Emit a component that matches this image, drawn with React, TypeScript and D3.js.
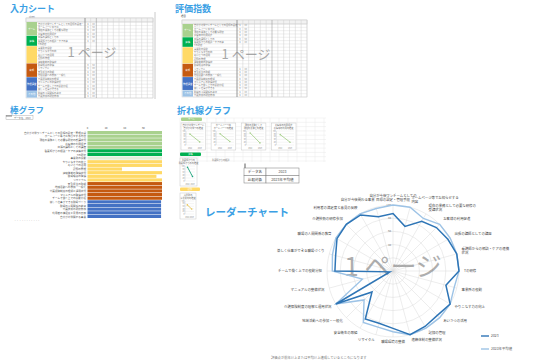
import React from "react";
import * as d3 from "d3";

const FONT = "'Noto Sans CJK JP', 'Noto Sans', sans-serif";
const TITLE_BLUE = "#3aa0e4";

// 評価項目（棒グラフ・レーダーチャート共通）
const items = [
  "自分が今後ワンチームとしての目標の設定・管理手段",
  "ホームページ等でお知らせする内容",
  "現在の業務として必要な研修の受講状況",
  "お客様の利用促進",
  "出張の講師としての講座",
  "看護師からの相談・ケアの連携状況",
  "Tの研修",
  "事業所の役割",
  "やりこなす力の向上",
  "あいさつの活用",
  "記録の管理",
  "連絡体制の整備状況",
  "職場環境の整備",
  "リサイクル",
  "安全衛生の取組",
  "地域活動への参加・一般化",
  "介護保険制度の理解と運用状況",
  "マニュアルの整備状況",
  "チームで働く上での役割分担",
  "楽しく仕事ができる職場づくり",
  "職場の人間関係の教育",
  "介護技術の研修参加",
  "利用者の満足度と意見の反映",
  "自分が今後関わる事業",
];

// 棒グラフ
const barGroup = [0, 0, 0, 0, 0, 1, 1, 6, 2, 2, 2, 2, 2, 2, 3, 3, 3, 3, 3, 4, 4, 4, 4, 4];
const barValues = [80, 80, 80, 80, 80, 80, 80, 80, 80, 80, 37, 80, 74, 80, 80, 80, 80, 80, 80, 79, 79, 79, 79, 79];
const barTicks = [0, 20, 40, 60];
const groupColors = ["#a9d18e", "#00b050", "#ffd966", "#c55a11", "#4472c4", "#9dc3e6", "#e2efda"];

// レーダーチャート
const radar2023 = [87, 70, 87, 93, 96, 100, 100, 83, 100, 95, 97, 100, 87, 82, 84, 45, 100, 5, 88, 90, 98, 100, 98, 85];
const radarAvg = [100, 100, 92, 100, 100, 100, 100, 96, 100, 100, 100, 100, 92, 88, 90, 62, 100, 48, 92, 95, 100, 100, 100, 98];
const radarTicks = [20, 40, 60, 80, 100];
const radarTickLabels = [40, 60, 80, 100]; // 20 is hidden behind the page watermark
const seriesNames = ["2023", "2023年平均値"];

// シート
const sheetGroupRows = [4, 3, 5, 4, 4, 2];
const sheetGroupNames = ["チーム", "連携", "", "育成", "管理運営", "その他"];
const sheetScores = [4, 3, 4, 4, 3, 4, 4, 2, 4, 3, 4, 4, 3, 4, 4, 4, 3, 4, 4, 3, 4, 4];

// 折れ線グラフ
const years = ["2022", "2023"];
const miniTitles = ["自分が今後ワンチーム", "ホームページ等", "現在の業務として", "お客様の利用促進"];
const miniSeries = [
  [78, 22],
  [80, 25],
  [86, 15],
  [74, 20],
];
const greenSeries = [92, 30];
const yellowSeries = [70, 38];
const tableRows = [
  ["データ名", "2023"],
  ["比較対象", "2023年平均値"],
];

const Sheet = ({ x, y, w, h, labelW, nCols, mark, wmX }: any) => {
  const total = d3.sum(sheetGroupRows);
  const rowY = d3.scaleBand<number>().domain(d3.range(total)).range([y + 4, y + h]);
  const colX = d3.scaleLinear().domain([0, nCols]).range([x + 11 + labelW, x + w]);
  let start = 0;
  const blocks = sheetGroupRows.map((n, i) => {
    const b = { i, y0: rowY(start)!, y1: rowY(start + n - 1)! + rowY.bandwidth() };
    start += n;
    return b;
  });
  // rows behind the page watermark keep shorter text
  const underMark = (r: number) => rowY(r)! > y + 22 && rowY(r)! < y + 45;
  return (
    <g fontFamily={FONT}>
      <rect x={x} y={y} width={w} height={h} fill="#fff" stroke="#cfcfcf" strokeWidth={0.5} />
      <rect x={x} y={y} width={w} height={4} fill="#f2f2f2" stroke="#bbb" strokeWidth={0.4} />
      {d3.range(total + 1).map((r) => (
        <line key={r} x1={x + 11} x2={x + w} y1={y + 4 + r * rowY.step()} y2={y + 4 + r * rowY.step()} stroke="#d6d6d6" strokeWidth={0.4} />
      ))}
      {d3.range(nCols + 1).map((c) => (
        <line key={c} x1={colX(c)} x2={colX(c)} y1={y} y2={y + h} stroke={c === mark[0] || c === mark[1] ? "#8a8a8a" : "#d0d0d0"} strokeWidth={c === mark[0] ? 0.9 : 0.5} />
      ))}
      {blocks.map((b) => (
        <g key={b.i}>
          <rect x={x + 0.5} y={b.y0} width={10.5} height={b.y1 - b.y0 - 0.4} fill={groupColors[b.i]} />
          <text x={x + 5.7} y={(b.y0 + b.y1) / 2 + 0.8} fontSize={2.4} fill="#fff" textAnchor="middle">{sheetGroupNames[b.i]}</text>
        </g>
      ))}
      {d3.range(total).map((r) => (
        <g key={r}>
          <text x={x + 12} y={rowY(r)! + rowY.bandwidth() - 0.9} fontSize={2.3} fill="#777">
            {items[r].slice(0, underMark(r) ? 8 : r % 3 === 1 ? 9 : r % 3 === 2 ? 13 : 20)}
          </text>
          {!underMark(r) && (
            <>
              <text x={colX(0.5)} y={rowY(r)! + rowY.bandwidth() - 0.9} fontSize={2.3} fill="#777" textAnchor="middle">{sheetScores[r]}</text>
              <text x={colX(1.5)} y={rowY(r)! + rowY.bandwidth() - 0.9} fontSize={2.3} fill="#999" textAnchor="middle">{sheetScores[r] * 20}</text>
            </>
          )}
        </g>
      ))}
      <text x={wmX} y={y + 39} fontSize={13} fill="#8c8c8c" opacity={0.75} textAnchor="middle">1 ページ</text>
    </g>
  );
};

const MiniChart = ({ x, y, w, h, title, values, color }: any) => {
  const px = d3.scalePoint<string>().domain(years).range([x + 6, x + w - 3]).padding(0.3);
  const py = d3.scaleLinear().domain([0, 100]).range([y + h - 5, y + 8]);
  const line = d3.line<number>().x((_, i) => px(years[i])!).y((d) => py(d));
  return (
    <g fontFamily={FONT}>
      <rect x={x} y={y} width={w} height={h} fill="#fff" stroke="#c8c8c8" strokeWidth={0.5} />
      <text x={x + w / 2} y={y + 3} fontSize={2.2} fill="#666" textAnchor="middle">{title}</text>
      <text x={x + w / 2} y={y + 5.6} fontSize={2.2} fill="#666" textAnchor="middle">{title.slice(0, 6)}の推移</text>
      {py.ticks(4).map((t) => (
        <g key={t}>
          <line x1={x + 5} x2={x + w - 2} y1={py(t)} y2={py(t)} stroke="#e3e3e3" strokeWidth={0.4} />
          <text x={x + 4.5} y={py(t) + 0.7} fontSize={1.8} fill="#888" textAnchor="end">{t}</text>
        </g>
      ))}
      <line x1={x + 5} x2={x + 5} y1={py(100)} y2={py(0)} stroke="#bbb" strokeWidth={0.4} />
      <path d={line(values)!} fill="none" stroke={color} strokeWidth={0.9} />
      {values.map((v: number, i: number) => (
        <circle key={i} cx={px(years[i])} cy={py(v)} r={0.8} fill={color} />
      ))}
      {years.map((yr) => (
        <text key={yr} x={px(yr)} y={y + h - 1.5} fontSize={1.8} fill="#888" textAnchor="middle">{yr}</text>
      ))}
    </g>
  );
};

const BarChart = () => {
  const x = d3.scaleLinear().domain([0, 80]).range([87.5, 162]);
  const y = d3.scaleBand<number>().domain(d3.range(items.length)).range([131, 218]).paddingInner(0.14);
  return (
    <g fontFamily={FONT}>
      <text x={10} y={113} fontSize={8.5} fontWeight="bold" fill={TITLE_BLUE}>棒グラフ</text>
      <rect x={6} y={115.5} width={27} height={4} fill="#fff" stroke="#999" strokeWidth={0.4} />
      <line x1={6} x2={12} y1={116} y2={116} stroke="#333" strokeWidth={0.6} />
      <text x={14} y={118.6} fontSize={2.3} fill="#666">データ名　2023</text>
      {barTicks.map((t) => (
        <text key={t} x={x(t)} y={129} fontSize={2.6} fill="#555" textAnchor="middle">{t}</text>
      ))}
      {items.map((name, i) => (
        <g key={i}>
          <rect x={x(0)} y={y(i)} width={x(barValues[i]) - x(0)} height={y.bandwidth()} fill={groupColors[barGroup[i]]} />
          <text x={86} y={y(i)! + y.bandwidth() - 0.5} fontSize={2.6} fill="#555" textAnchor="end">{name}</text>
        </g>
      ))}
      <text x={14} y={222} fontSize={2.3} fill="#999">・・ ・・・・・・・・・</text>
    </g>
  );
};

const LineCharts = () => {
  const boxX = d3.scaleBand<number>().domain(d3.range(miniSeries.length)).range([181, 296]).paddingInner(0.18);
  const gridX = d3.range(180, 327, 9);
  const gridY = d3.range(118, 163, 4.3);
  return (
    <g fontFamily={FONT}>
      <text x={177} y={114} fontSize={9} fontWeight="bold" fill={TITLE_BLUE}>折れ線グラフ</text>
      {gridX.map((gx) => (
        <line key={gx} x1={gx} x2={gx} y1={118} y2={162} stroke="#e8e8e8" strokeWidth={0.5} />
      ))}
      {gridY.map((gy) => (
        <line key={gy} x1={180} x2={326} y1={gy} y2={gy} stroke="#e8e8e8" strokeWidth={0.5} />
      ))}
      <rect x={181} y={117.5} width={21} height={3.5} rx={1} fill="#a9d18e" />
      <text x={191.5} y={120.3} fontSize={2.2} fill="#fff" textAnchor="middle">チーム</text>
      {miniSeries.map((vals, i) => (
        <MiniChart key={i} x={boxX(i)} y={123} w={boxX.bandwidth()} h={27} title={miniTitles[i]} values={vals} color="#a9d18e" />
      ))}
      <rect x={180} y={152.5} width={21} height={3.5} rx={1} fill="#00b050" />
      <text x={190.5} y={155.3} fontSize={2.2} fill="#fff" textAnchor="middle">連携</text>
      <MiniChart x={180} y={158} w={17} h={28} title="看護師からの" values={greenSeries} color="#1aa37a" />
      <text x={212} y={160.5} fontSize={2.2} fill="#777">看護師からの相談</text>
      <rect x={180} y={187.5} width={20} height={3.5} rx={1} fill="#ffd966" />
      <text x={190} y={190.3} fontSize={2.2} fill="#fff" textAnchor="middle">記録</text>
      <MiniChart x={180} y={193} w={16} h={26} title="事業所の" values={yellowSeries} color="#e8c65a" />
      <line x1={245} x2={245} y1={163.5} y2={168} stroke="#333" strokeWidth={0.8} />
      {tableRows.map((row, r) => (
        <g key={r}>
          <rect x={244} y={168 + r * 7.5} width={22} height={7.5} fill="#fff" stroke="#777" strokeWidth={0.5} />
          <rect x={266} y={168 + r * 7.5} width={33} height={7.5} fill="#fff" stroke="#777" strokeWidth={0.5} />
          <text x={255} y={173 + r * 7.5} fontSize={3.6} fill="#444" textAnchor="middle">{row[0]}</text>
          <text x={282.5} y={173 + r * 7.5} fontSize={3.6} fill="#444" textAnchor="middle">{row[1]}</text>
        </g>
      ))}
    </g>
  );
};

const Radar = () => {
  const cx = 393;
  const cy = 271;
  const R = 66;
  const n = items.length;
  const r = d3.scaleLinear().domain([0, 100]).range([0, R]);
  const angle = (i: number) => (i * 2 * Math.PI) / n;
  const radial = d3
    .lineRadial<number>()
    .angle((_, i) => angle(i))
    .radius((d) => r(d))
    .curve(d3.curveLinearClosed);
  return (
    <g fontFamily={FONT}>
      <text x={205} y={216} fontSize={10.5} fontWeight="bold" fill={TITLE_BLUE}>レーダーチャート</text>
      <g transform={`translate(${cx},${cy})`}>
        {radarTicks.map((t) => (
          <circle key={t} r={r(t)} fill="none" stroke="#dadada" strokeWidth={0.5} />
        ))}
        {items.map((_, i) => (
          <line key={i} x1={0} y1={0} x2={R * Math.sin(angle(i))} y2={-R * Math.cos(angle(i))} stroke="#dadada" strokeWidth={0.5} />
        ))}
        {radarTickLabels.map((t) => (
          <text key={t} x={-2} y={-r(t) + 1} fontSize={2.8} fill="#777" textAnchor="end">{t}</text>
        ))}
        <text x={0} y={5} fontSize={26} fill="#7a7a7a" opacity={0.6} textAnchor="middle">1 ページ</text>
        <path d={radial(radarAvg)!} fill="none" stroke="#9dc3e6" strokeWidth={1.4} />
        <path d={radial(radar2023)!} fill="none" stroke="#2e75b6" strokeWidth={1.5} />
        {items.map((name, i) => {
          const a = angle(i);
          const s = Math.sin(a);
          const c = -Math.cos(a);
          const lx = (R + 5) * s;
          const ly = (R + 5) * c;
          const anchor = Math.abs(s) < 0.2 ? "middle" : s > 0 ? "start" : "end";
          const twoLine = name.length > 14;
          return (
            <text key={i} x={lx} y={ly + (c < -0.2 ? -1 : 1.2)} fontSize={3.4} fill="#444" textAnchor={anchor}>
              {twoLine ? (
                <>
                  <tspan x={lx} dy={-2}>{name.slice(0, 14)}</tspan>
                  <tspan x={lx} dy={4}>{name.slice(14)}</tspan>
                </>
              ) : (
                name
              )}
            </text>
          );
        })}
      </g>
      {seriesNames.map((s, i) => (
        <g key={s}>
          <line x1={481} x2={489} y1={336 + i * 13} y2={336 + i * 13} stroke={i === 0 ? "#2e75b6" : "#9dc3e6"} strokeWidth={1.4} />
          <text x={491} y={337.2 + i * 13} fontSize={3.4} fill="#555">{s}</text>
        </g>
      ))}
      <text x={271} y={358.5} fontSize={3.3} fill="#777">評価点が前年以上または平均以上達成しているところになります</text>
    </g>
  );
};

export default function App() {
  return (
    <svg width={535} height={363} style={{ position: "absolute", left: 0, top: 0, background: "#fff" }}>
      <rect width={535} height={363} fill="#fff" />
      <text x={10} y={12} fontFamily={FONT} fontSize={9} fontWeight="bold" fill={TITLE_BLUE}>入力シート</text>
      <text x={29} y={17.6} fontFamily={FONT} fontSize={2.2} fill="#888">Sheet</text>
      <Sheet x={26} y={18} w={127} h={80} labelW={48} nCols={12} mark={[0, 2]} wmX={92} />
      <line x1={155} x2={155} y1={12} y2={99} stroke="#bdbdbd" strokeWidth={0.8} />
      <text x={175} y={12} fontFamily={FONT} fontSize={9} fontWeight="bold" fill={TITLE_BLUE}>評価指数</text>
      <text x={181} y={17} fontFamily={FONT} fontSize={2.4} fill="#333">項目</text>
      <Sheet x={182} y={20} w={125} h={77} labelW={44} nCols={12} mark={[0, 6]} wmX={246} />
      <BarChart />
      <LineCharts />
      <Radar />
    </svg>
  );
}
